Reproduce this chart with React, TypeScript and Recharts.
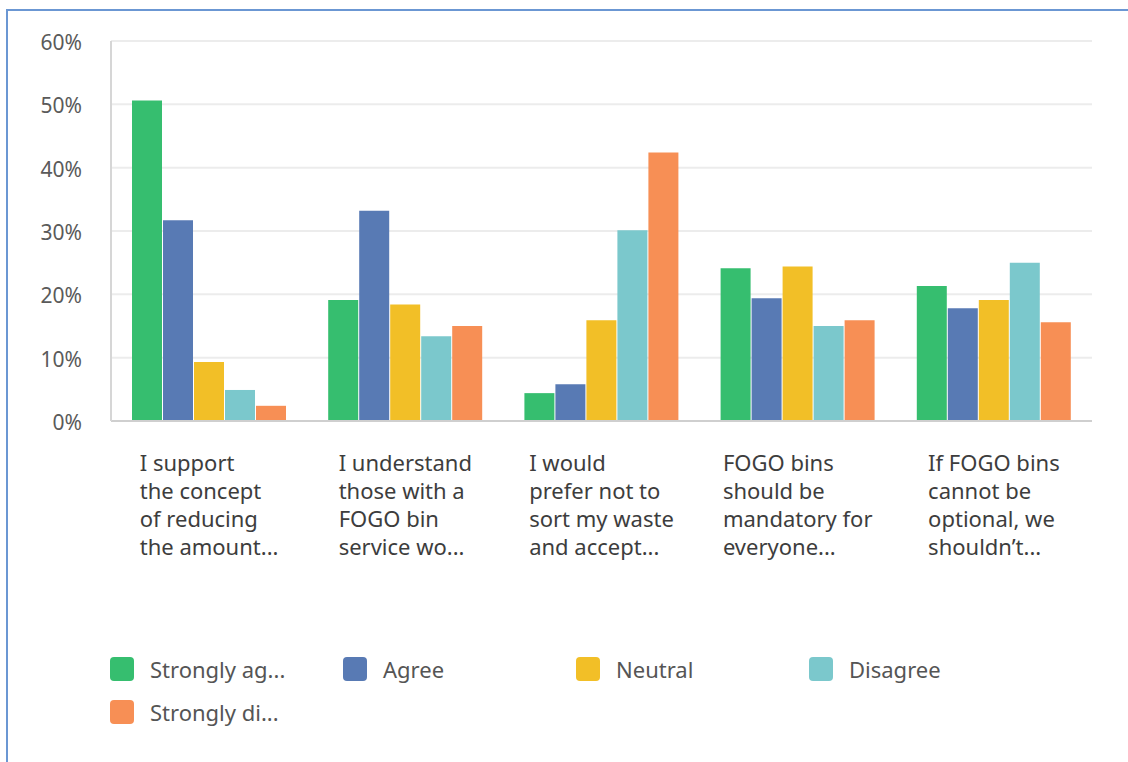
import { BarChart, Bar, XAxis, YAxis, CartesianGrid, Legend } from 'recharts';

const categories = [
  'I support\nthe concept\nof reducing\nthe amount...',
  'I understand\nthose with a\nFOGO bin\nservice wo...',
  'I would\nprefer not to\nsort my waste\nand accept...',
  'FOGO bins\nshould be\nmandatory for\neveryone...',
  'If FOGO bins\ncannot be\noptional, we\nshouldn\u2019t...',
];

const stronglyAgree = [50.6, 19.1, 4.4, 24.1, 21.3];
const agree = [31.7, 33.2, 5.8, 19.4, 17.8];
const neutral = [9.3, 18.4, 15.9, 24.4, 19.1];
const disagree = [4.9, 13.4, 30.1, 15.0, 25.0];
const stronglyDisagree = [2.4, 15.0, 42.4, 15.9, 15.6];

const seriesNames = ['Strongly ag...', 'Agree', 'Neutral', 'Disagree', 'Strongly di...'];
const yTicks = [0, 10, 20, 30, 40, 50, 60];

const colors = ['#36be6f', '#587ab4', '#f2bf27', '#7bc8cc', '#f78f55'];
const FONT = '"Noto Sans", "Open Sans", sans-serif';

const data = categories.map((name, i) => ({
  name,
  s0: stronglyAgree[i],
  s1: agree[i],
  s2: neutral[i],
  s3: disagree[i],
  s4: stronglyDisagree[i],
}));

let ctx: CanvasRenderingContext2D | null = null;
function measure(text: string, font: string) {
  if (!ctx) ctx = document.createElement('canvas').getContext('2d');
  if (!ctx) return text.length * 11;
  ctx.font = font;
  return ctx.measureText(text).width;
}

// category labels: block centred under the group, lines left aligned
const CategoryTick = (props: any) => {
  const { x, y, payload } = props;
  const lines: string[] = String(payload.value).split('\n');
  const w = Math.max(...lines.map((l) => measure(l, `22px ${FONT}`)));
  const left = x - w / 2;
  return (
    <text x={left} y={y} fill="#3d3d3d" fontSize={22} fontFamily={FONT} textAnchor="start">
      {lines.map((l, i) => (
        <tspan key={i} x={left} y={y + 42 + i * 28}>
          {l}
        </tspan>
      ))}
    </text>
  );
};

const ValueTick = (props: any) => {
  const { x, y, payload } = props;
  return (
    <text x={x} y={y + 9} fill="#5a5a5a" fontSize={21} fontFamily={FONT} textAnchor="end">
      {`${payload.value}%`}
    </text>
  );
};

const LegendContent = () => (
  <div style={{ position: 'relative', width: 1000, height: 80, fontFamily: FONT }}>
    {seriesNames.map((n, i) => (
      <div
        key={n}
        style={{
          position: 'absolute',
          left: (i % 4) * 233,
          top: Math.floor(i / 4) * 43,
          display: 'flex',
          alignItems: 'center',
          height: 24,
        }}
      >
        <span
          style={{
            width: 24,
            height: 24,
            borderRadius: 4,
            background: colors[i],
            display: 'inline-block',
            flexShrink: 0,
          }}
        />
        <span style={{ marginLeft: 16, fontSize: 22, color: '#555', whiteSpace: 'nowrap' }}>{n}</span>
      </div>
    ))}
  </div>
);

export default function App() {
  return (
    <div
      style={{
        position: 'absolute',
        left: 0,
        top: 0,
        width: 1128,
        height: 762,
        overflow: 'hidden',
        background: '#fff',
      }}
    >
      <div
        style={{
          position: 'absolute',
          left: 6,
          top: 9,
          width: 1200,
          height: 800,
          border: '2px solid #6b97d3',
        }}
      />
      <div style={{ position: 'absolute', left: 0, top: 0 }}>
        <BarChart
          width={1128}
          height={762}
          data={data}
          margin={{ top: 41, right: 36, left: 0, bottom: 141 }}
          barSize={30}
          barGap={1}
        >
          <CartesianGrid vertical={false} stroke="#ececec" strokeWidth={2} />
          <XAxis
            dataKey="name"
            axisLine={{ stroke: '#cfcfcf', strokeWidth: 2 }}
            tickLine={false}
            tick={<CategoryTick />}
            interval={0}
            height={200}
          />
          <YAxis
            width={111}
            domain={[0, 60]}
            ticks={yTicks}
            axisLine={{ stroke: '#d6d6d6', strokeWidth: 2 }}
            tickLine={false}
            tickSize={0}
            tickMargin={29}
            tick={<ValueTick />}
          />
          <Legend
            layout="vertical"
            align="center"
            verticalAlign="middle"
            content={<LegendContent />}
            wrapperStyle={{ position: 'absolute', left: 110, top: 657, width: 1000 }}
          />
          {seriesNames.map((n, i) => (
            <Bar key={n} dataKey={`s${i}`} name={n} fill={colors[i]} isAnimationActive={false} />
          ))}
        </BarChart>
      </div>
    </div>
  );
}
